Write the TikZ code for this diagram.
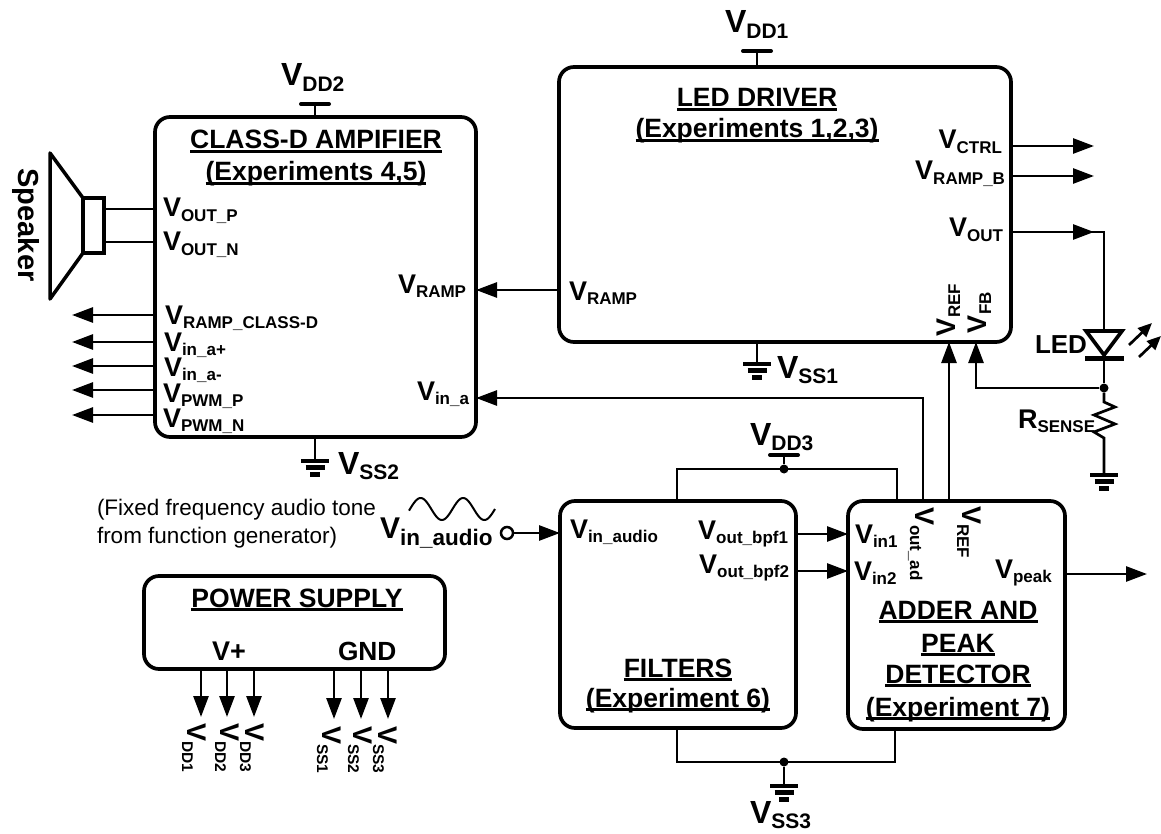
\documentclass[tikz,border=0pt]{standalone}
\usepackage{fontspec}
\setmainfont{Liberation Sans}
\usetikzlibrary{arrows.meta,calc}
\newcommand\pinV[1]{{\fontsize{27}{27}\selectfont V}\raisebox{-4.5pt}{\fontsize{17}{17}\selectfont #1}}
\newcommand\bigV[1]{{\fontsize{32}{32}\selectfont V}\raisebox{-5.5pt}{\fontsize{21}{21}\selectfont #1}}
\newcommand\smV[1]{{\fontsize{27}{27}\selectfont V}\raisebox{-5pt}{\fontsize{15.5}{15.5}\selectfont #1}}
\newcommand\ttl[1]{\setbox0\hbox{#1}\rlap{\rule[-3.6pt]{\wd0}{2.4pt}}\box0}
\tikzset{
 x=1pt,y=-1pt,
 blk/.style={draw,rounded corners=15pt,line width=3.7pt,inner sep=0pt,outer sep=0pt},
 lbl/.style={inner sep=0pt,outer sep=0pt,font=\bfseries},
 pinL/.style={lbl,anchor=base west},
 pinR/.style={lbl,anchor=base east},
 upL/.style={lbl,anchor=base west,rotate=90},
 dnL/.style={lbl,anchor=base west,rotate=-90},
 title/.style={lbl,anchor=base,font=\bfseries\fontsize{26.5}{26.5}\selectfont},
 wire/.style={line width=2.7pt},
 arr/.style={wire,-{Triangle[length=21pt,width=15pt]}},
 dotn/.style={circle,fill=black,inner sep=0pt,minimum size=9pt},
 rail/.style={line width=4pt,line cap=round},
 pics/gnd/.style={code={
   \draw[line width=4.5pt] (-14,0)--(14,0) (-9.5,6.7)--(9.5,6.7) (-5,13.5)--(5,13.5);}},
}
\begin{document}
\begin{tikzpicture}
\useasboundingbox (0,0) rectangle (1161,834);
\fill[white] (0,0) rectangle (1161,834);

% blocks
\node[blk,minimum width=321pt,minimum height=320pt] (cd) at (315.5,277) {};
\node[blk,minimum width=452pt,minimum height=275pt] (led) at (785,204.5) {};
\node[blk,minimum width=236pt,minimum height=227pt] (fil) at (678,614.5) {};
\node[blk,minimum width=217pt,minimum height=228pt] (add) at (956.5,615) {};
\node[blk,minimum width=301pt,minimum height=93pt] (ps) at (294.5,622.5) {};

% titles
\node[title] (t1) at (316,149) {\ttl{CLASS-D AMPIFIER}};
\node[title] (t2) at (316,181) {\ttl{(Experiments 4,5)}};
\node[title] (t3) at (757,107) {\ttl{LED DRIVER}};
\node[title] (t4) at (757,138) {\ttl{(Experiments 1,2,3)}};
\node[title] (t5) at (678,677) {\ttl{FILTERS}};
\node[title] (t6) at (678,707) {\ttl{(Experiment 6)}};
\node[title] (t7) at (958,619) {\ttl{ADDER AND}};
\node[title] (t8) at (958,652) {\ttl{PEAK}};
\node[title] (t9) at (958,683) {\ttl{DETECTOR}};
\node[title] (t10) at (958,716) {\ttl{(Experiment 7)}};
\node[title] (t11) at (297,607) {\ttl{POWER SUPPLY}};

% supplies
\node[pinL] (vdd1) at (725,33) {\bigV{DD1}};
\node[pinL] (vdd2) at (281,86) {\bigV{DD2}};
\node[pinL] (vdd3) at (750,445) {\bigV{DD3}};
\node[pinL] (vss1) at (777,378) {\bigV{SS1}};
\node[pinL] (vss2) at (338,474) {\bigV{SS2}};
\node[pinL] (vss3) at (750,823) {\bigV{SS3}};

\coordinate (b1) at (757,51);
\coordinate (b2) at (315,104);
\coordinate (b3) at (784,455);
\draw[rail] ($(b1)+(-14,0)$) -- ($(b1)+(14,0)$);
\draw[rail] ($(b2)+(-14,0)$) -- ($(b2)+(14,0)$);
\draw[rail] ($(b3)+(-14,0)$) -- ($(b3)+(14,0)$);
\draw[wire] (b1) -- (led.north -| b1);
\draw[wire] (b2) -- (cd.north -| b2);

\coordinate (g1) at (757,364);
\coordinate (g2) at (315,461);
\coordinate (g3) at (784,786);
\coordinate (g4) at (1104,475);
\draw[wire] (led.south -| g1) -- (g1);
\draw[wire] (cd.south -| g2) -- (g2);
\pic at (g1) {gnd};
\pic at (g2) {gnd};
\pic at (g3) {gnd};
\pic at (g4) {gnd};

% supply rails of filters and adder
\node[dotn] (dt) at (784,469) {};
\node[dotn] (db) at (784,762) {};
\draw[wire] (b3) -- (dt);
\draw[wire] (db) -- (g3);
\coordinate (ft) at (677,469);
\coordinate (at) at (897,469);
\coordinate (fb) at (677,762);
\coordinate (ab) at (895,762);
\draw[wire] (fil.north -| ft) -- (ft) -- (at) -- (add.north -| at);
\draw[wire] (fil.south -| fb) -- (fb) -- (ab) -- (add.south -| ab);

% speaker
\draw[line width=3.5pt,line join=round] (83,198) -- (50,153) -- (50,299) -- (83,253);
\node[draw,line width=3.5pt,inner sep=0pt,outer sep=0pt,minimum width=21pt,minimum height=55pt] (coil) at (93.5,225.5) {};
\draw[wire] (coil.east |- 0,209) -- (cd.west |- 0,209);
\draw[wire] (coil.east |- 0,242) -- (cd.west |- 0,242);
\node[lbl,rotate=-90,font=\bfseries\fontsize{29}{29}\selectfont] (spk) at (26,225) {Speaker};

% class-D pins
\node[pinL] (p1) at (163,217) {\pinV{OUT\_P}};
\node[pinL] (p2) at (163,251) {\pinV{OUT\_N}};
\node[pinL] (p3) at (165,324) {\pinV{RAMP\_CLASS-D}};
\node[pinL] (p4) at (164,351) {\pinV{in\_a+}};
\node[pinL] (p5) at (164,376) {\pinV{in\_a-}};
\node[pinL] (p6) at (163,402) {\pinV{PWM\_P}};
\node[pinL] (p7) at (163,427) {\pinV{PWM\_N}};
\node[pinL] (p8) at (398,293) {\pinV{RAMP}};
\node[pinL] (p9) at (417,400) {\pinV{in\_a}};
\coordinate (lx) at (72,0);
\foreach \yy in {315,342,366,390,415}
  \draw[arr] (cd.west |- 0,\yy) -- (lx |- 0,\yy);

% LED driver pins
\node[pinL] (q1) at (569,300) {\pinV{RAMP}};
\node[pinR] (q2) at (1002,149) {\pinV{CTRL}};
\node[pinR] (q3) at (1005,180) {\pinV{RAMP\_B}};
\node[pinR] (q4) at (1003,237) {\pinV{OUT}};
\node[upL] (q5) at (955,336) {\smV{\fontsize{17}{17}\selectfont REF}};
\node[upL] (q6) at (986,333) {\smV{\fontsize{17}{17}\selectfont FB}};
\coordinate (rx) at (1094,0);
\draw[arr] (led.east |- 0,146) -- (rx |- 0,146);
\draw[arr] (led.east |- 0,176) -- (rx |- 0,176);
\draw[arr] (led.west |- 0,290) -- (cd.east |- 0,290);

% LED branch
\coordinate (la) at (1104,331);
\coordinate (lc) at (1104,355);
\node[dotn] (ds) at (1104,388) {};
\draw[wire] (led.east |- 0,232) -- (la |- 0,232) -- (la);
\draw[arr] (led.east |- 0,232) -- (rx |- 0,232);
\draw[line width=3.7pt,line join=miter] (1086,331) -- (1122,331) -- (lc) -- cycle;
\draw[line width=5pt] (1085,358) -- (1124,358);
\draw[wire] (lc) -- (ds);
\draw[wire,-{Triangle[length=14pt,width=12pt]}] (1129,345) -- (1152,323);
\draw[wire,-{Triangle[length=14pt,width=12pt]}] (1139,357) -- (1161,336);
\node[lbl,anchor=base west,font=\bfseries\fontsize{26}{26}\selectfont] (ledt) at (1035,353) {LED};
\draw[wire,line join=miter] (ds) -- (1104,402) -- (1115,407) -- (1094,415) -- (1115,424) -- (1094,432) -- (1104,438) -- (g4);
\node[lbl,anchor=base west] (rs) at (1018,428) {{\fontsize{27}{27}\selectfont R}\raisebox{-4.5pt}{\fontsize{17}{17}\selectfont SENSE}};

% feedback arrows
\coordinate (xin) at (923,0);
\coordinate (xref) at (949,0);
\coordinate (xfb) at (976,0);
\draw[arr] (ds) -- (xfb |- ds) -- (xfb |- led.south);
\draw[arr] (add.north -| xref) -- (led.south -| xref);
\draw[arr] (add.north -| xin) -- (xin |- 0,398) -- (cd.east |- 0,398);

% filter pins
\node[pinL] (f1) at (570,538) {\pinV{in\_audio}};
\node[pinR] (f2) at (788,539) {\pinV{out\_bpf1}};
\node[pinR] (f3) at (789,573) {\pinV{out\_bpf2}};
\draw[arr] (fil.east |- 0,534) -- (add.west |- 0,534);
\draw[arr] (fil.east |- 0,571) -- (add.west |- 0,571);

% adder pins
\node[pinL] (a1) at (855,543) {\pinV{in1}};
\node[pinL] (a2) at (854,580) {\pinV{in2}};
\node[pinL] (a3) at (995,578) {\pinV{peak}};
\node[dnL] (a4) at (915,507) {\smV{\fontsize{17}{17}\selectfont out\_ad}};
\node[dnL] (a5) at (962,506) {\smV{\fontsize{17}{17}\selectfont REF}};
\coordinate (pk) at (1147,574);
\draw[arr] (add.east |- pk) -- (pk);

% audio input
\node[lbl,anchor=base west,font=\fontsize{22.5}{22.5}\selectfont] (n1) at (97,515) {(Fixed frequency audio tone};
\node[lbl,anchor=base west,font=\fontsize{22.5}{22.5}\selectfont] (n2) at (97,543) {from function generator)};
\node[lbl,anchor=base west] (vaud) at (380,538) {{\fontsize{30}{30}\selectfont V}\raisebox{-7pt}{\fontsize{22.5}{22.5}\selectfont in\_audio}};
\draw[line width=2pt] plot[domain=409:495,samples=80,smooth] (\x,{509-11*sin((\x-410)/42.5*360)});
\node[circle,draw,line width=2.5pt,inner sep=0pt,minimum size=12pt,outer sep=0pt] (port) at (507,533) {};
\draw[arr] (port) -- (fil.west |- port);

% power supply pins
\node[pinL] (s1) at (212,660) {{\fontsize{27}{27}\selectfont V+}};
\node[lbl,anchor=base west,font=\bfseries\fontsize{26.3}{26.3}\selectfont] (s2) at (338,660) {GND};
\foreach \xx in {201,227,254} \draw[arr] (\xx,0 |- ps.south) -- (\xx,717);
\foreach \xx in {334,361,388} \draw[arr] (\xx,0 |- ps.south) -- (\xx,719);
\node[dnL] (d1) at (187,723) {\smV{DD1}};
\node[dnL] (d2) at (220,723) {\smV{DD2}};
\node[dnL] (d3) at (245,723) {\smV{DD3}};
\node[dnL] (d4) at (322,726) {\smV{SS1}};
\node[dnL] (d5) at (353,726) {\smV{SS2}};
\node[dnL] (d6) at (378,726) {\smV{SS3}};
\end{tikzpicture}
\end{document}
